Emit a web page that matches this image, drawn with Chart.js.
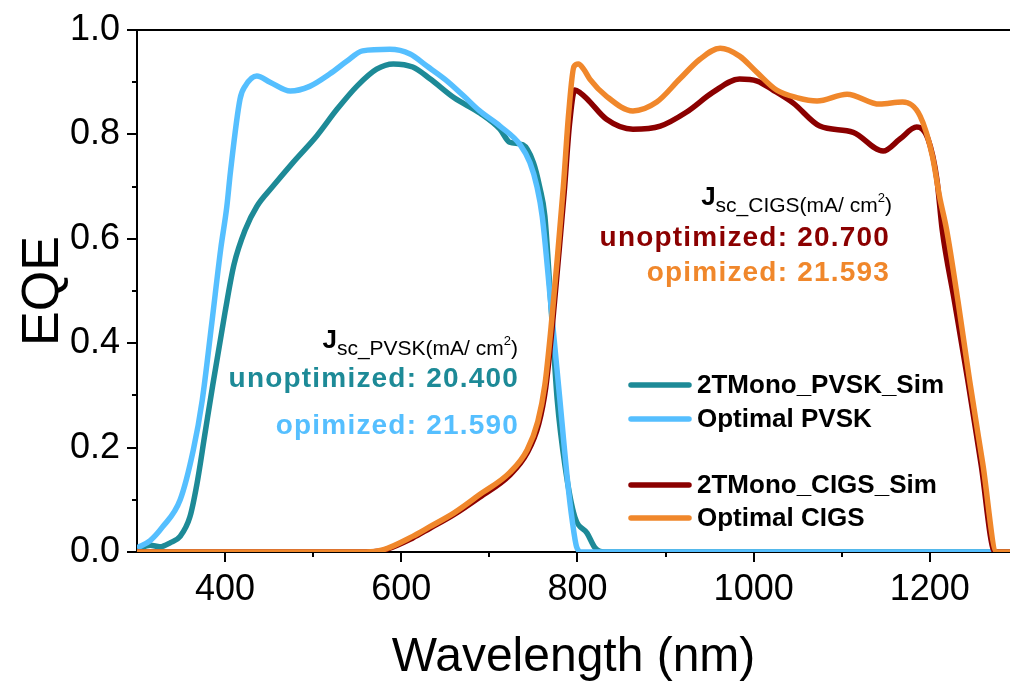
<!DOCTYPE html>
<html>
<head>
<meta charset="utf-8">
<script src="https://cdn.jsdelivr.net/npm/chart.js@4.4.0/dist/chart.umd.min.js"></script>
<style>
  html, body { margin: 0; padding: 0; background: #fff; }
  #wrap { width: 1010px; height: 681px; }
</style>
</head>
<body>
<div id="wrap"><canvas id="eqe-chart" width="1010" height="681"></canvas></div>
<script>
const FAMILY = "'Liberation Sans', Arial, Helvetica, sans-serif";

// axis ticks
const xTickValues = [400, 500, 600, 700, 800, 900, 1000, 1100, 1200];
const yTickValues = [0, 0.1, 0.2, 0.3, 0.4, 0.5, 0.6, 0.7, 0.8, 0.9, 1.0];

// 2TMono_PVSK_Sim (top cell, simulated)
const simPvskNm  = [300, 315, 326, 338, 349, 360, 368, 377, 386, 400, 410, 423, 436, 454, 477, 504, 527, 550, 572, 591, 613, 633, 660, 690, 712, 723, 738, 750, 757, 763, 770, 777, 786, 797, 811, 820, 830, 1291];
const simPvskEqe = [0.005, 0.013, 0.01, 0.018, 0.03, 0.067, 0.13, 0.225, 0.32, 0.46, 0.55, 0.618, 0.662, 0.70, 0.746, 0.797, 0.848, 0.893, 0.925, 0.935, 0.929, 0.906, 0.87, 0.84, 0.81, 0.785, 0.78, 0.746, 0.70, 0.643, 0.47, 0.292, 0.163, 0.067, 0.036, 0.008, 0, 0];

// Optimal PVSK
const optPvskNm  = [300, 315, 329, 349, 364, 374, 385, 395, 402, 406, 417, 423, 436, 451, 474, 496, 519, 538, 556, 587, 610, 629, 650, 670, 689, 712, 735, 746, 754, 760, 770, 780, 789, 794, 799, 805, 1291];
const optPvskEqe = [0.008, 0.022, 0.048, 0.10, 0.196, 0.29, 0.44, 0.58, 0.662, 0.727, 0.868, 0.893, 0.912, 0.90, 0.883, 0.892, 0.916, 0.94, 0.96, 0.963, 0.954, 0.931, 0.905, 0.875, 0.845, 0.816, 0.78, 0.746, 0.70, 0.643, 0.47, 0.292, 0.132, 0.061, 0.01, 0, 0];

// 2TMono_CIGS_Sim (bottom cell, simulated)
const simCigsNm  = [300, 560, 579, 613, 632, 660, 689, 723, 743, 756, 764, 771, 778, 785, 791, 797, 803, 811, 833, 863, 894, 924, 954, 984, 1004, 1022, 1045, 1075, 1113, 1147, 1166, 1185, 1198, 1208, 1214, 1228, 1243, 1258, 1274, 1291];
const simCigsEqe = [0, 0, 0.003, 0.027, 0.045, 0.072, 0.105, 0.147, 0.19, 0.245, 0.315, 0.425, 0.555, 0.69, 0.82, 0.885, 0.88, 0.868, 0.829, 0.81, 0.816, 0.843, 0.881, 0.906, 0.902, 0.885, 0.86, 0.816, 0.804, 0.768, 0.791, 0.814, 0.791, 0.714, 0.618, 0.48, 0.33, 0.17, 0, 0];

// Optimal CIGS
const optCigsNm  = [300, 560, 579, 613, 632, 660, 689, 723, 743, 755, 763, 770, 777, 784, 790, 796, 801, 807, 814, 833, 863, 890, 916, 939, 962, 984, 1003, 1026, 1050, 1072, 1106, 1143, 1169, 1189, 1203, 1211, 1219, 1232, 1245, 1260, 1276, 1291];
const optCigsEqe = [0, 0, 0.004, 0.03, 0.048, 0.075, 0.11, 0.152, 0.196, 0.25, 0.32, 0.43, 0.56, 0.70, 0.84, 0.93, 0.935, 0.925, 0.906, 0.873, 0.845, 0.862, 0.906, 0.944, 0.965, 0.95, 0.92, 0.885, 0.87, 0.864, 0.877, 0.858, 0.862, 0.835, 0.758, 0.681, 0.618, 0.48, 0.33, 0.17, 0, 0];

const seriesNames  = ['2TMono_PVSK_Sim', 'Optimal PVSK', '2TMono_CIGS_Sim', 'Optimal CIGS'];
const seriesColors = ['#1d8a97', '#55bfff', '#8b0000', '#f0872b'];

// Jsc boxes: header sub-label, then the two value lines
const jscPvsk = { sub: 'sc_PVSK', unopt: 'unoptimized: 20.400', opt: 'opimized: 21.590' };
const jscCigs = { sub: 'sc_CIGS', unopt: 'unoptimized: 20.700', opt: 'opimized: 21.593' };

const pairs = (xs, ys) => xs.map((x, i) => ({ x: x, y: ys[i] }));

const lineSet = (i, xs, ys, order) => ({
    label: seriesNames[i],
    data: pairs(xs, ys),
    borderColor: seriesColors[i],
    backgroundColor: seriesColors[i],
    borderWidth: 5.5,
    pointRadius: 0,
    cubicInterpolationMode: 'monotone',
    fill: false,
    order: order
});

// outward tick marks, long on labelled values, short in between
const tickMarks = {
    id: 'tickMarks',
    afterDraw(chart) {
        const c = chart.ctx;
        const area = chart.chartArea;
        const xs = chart.scales.x;
        const ys = chart.scales.y;
        c.save();
        c.strokeStyle = '#000';
        c.lineWidth = 2;
        xs.ticks.forEach(t => {
            const len = t.value % 200 === 0 ? 10 : 5;
            const px = Math.round(xs.getPixelForValue(t.value));
            c.beginPath();
            c.moveTo(px, area.bottom);
            c.lineTo(px, area.bottom + len);
            c.stroke();
        });
        ys.ticks.forEach(t => {
            const len = Math.round(t.value * 10) % 2 === 0 ? 10 : 5;
            const py = Math.round(ys.getPixelForValue(t.value));
            c.beginPath();
            c.moveTo(area.left, py);
            c.lineTo(area.left - len, py);
            c.stroke();
        });
        // top frame line
        c.beginPath();
        c.moveTo(area.left, area.top);
        c.lineTo(chart.width, area.top);
        c.stroke();
        c.restore();
    }
};

// legend in two groups with a gap between PVSK and CIGS
const groupedLegend = {
    id: 'groupedLegend',
    afterDraw(chart) {
        const c = chart.ctx;
        const rows = [385, 419, 485, 518];
        c.save();
        c.lineCap = 'round';
        c.font = 'bold 26px ' + FAMILY;
        c.textBaseline = 'middle';
        c.textAlign = 'left';
        seriesNames.forEach((name, i) => {
            c.strokeStyle = seriesColors[i];
            c.lineWidth = 5.5;
            c.beginPath();
            c.moveTo(631, rows[i]);
            c.lineTo(689, rows[i]);
            c.stroke();
            c.fillStyle = '#000';
            c.fillText(name, 697, rows[i] + 1);
        });
        c.restore();
    }
};

function drawJscHeader(c, right, base, sub) {
    const parts = [
        { t: 'J', f: 'bold 26px ' + FAMILY, dy: -7 },
        { t: sub, f: '21px ' + FAMILY, dy: 0 },
        { t: '(mA/ cm', f: '21px ' + FAMILY, dy: 0 },
        { t: '2', f: '13px ' + FAMILY, dy: -10 },
        { t: ')', f: '21px ' + FAMILY, dy: 0 }
    ];
    let total = 0;
    parts.forEach(p => { c.font = p.f; p.w = c.measureText(p.t).width; total += p.w; });
    let x = right - total;
    c.textAlign = 'left';
    c.textBaseline = 'alphabetic';
    c.fillStyle = '#000';
    parts.forEach(p => { c.font = p.f; c.fillText(p.t, x, base + p.dy); x += p.w; });
}

function drawJscValues(c, right, base1, base2, text1, text2, col1, col2) {
    c.font = 'bold 28px ' + FAMILY;
    c.letterSpacing = '1.2px';
    c.textAlign = 'right';
    c.textBaseline = 'alphabetic';
    c.fillStyle = col1;
    c.fillText(text1, right, base1);
    c.fillStyle = col2;
    c.fillText(text2, right, base2);
    c.letterSpacing = '0px';
}

const jscNotes = {
    id: 'jscNotes',
    afterDraw(chart) {
        const c = chart.ctx;
        c.save();
        drawJscHeader(c, 518, 355, jscPvsk.sub);
        drawJscValues(c, 519, 387, 434, jscPvsk.unopt, jscPvsk.opt, seriesColors[0], seriesColors[1]);
        drawJscHeader(c, 892, 212, jscCigs.sub);
        drawJscValues(c, 890, 246, 281, jscCigs.unopt, jscCigs.opt, seriesColors[2], seriesColors[3]);
        c.restore();
    }
};

// fixed gutters so the plot box sits where it should
const fixX = s => { s.height = 129; s.paddingLeft = 0; s.paddingRight = 0; };
const fixY = s => { s.width = 137; s.paddingTop = 0; s.paddingBottom = 0; };

const ctx = document.getElementById('eqe-chart');

const EqeChart = new Chart(ctx, {
    type: 'line',
    data: {
        datasets: [
            lineSet(0, simPvskNm, simPvskEqe, 4),
            lineSet(1, optPvskNm, optPvskEqe, 3),
            lineSet(2, simCigsNm, simCigsEqe, 2),
            lineSet(3, optCigsNm, optCigsEqe, 1)
        ]
    },
    options: {
        responsive: false,
        devicePixelRatio: 1,
        animation: false,
        layout: { padding: { top: 30, right: 0, left: 0, bottom: 0 } },
        plugins: {
            legend: { display: false },
            tooltip: { enabled: false }
        },
        scales: {
            x: {
                type: 'linear',
                min: 300,
                max: 1291,
                grid: { display: false, drawTicks: false },
                border: { display: true, color: '#000', width: 2 },
                afterBuildTicks: s => { s.ticks = xTickValues.map(v => ({ value: v })); },
                ticks: {
                    autoSkip: false,
                    maxRotation: 0,
                    padding: 16,
                    color: '#000',
                    font: { family: FAMILY, size: 36 },
                    callback: v => v % 200 === 0 ? String(v) : ''
                },
                title: {
                    display: true,
                    text: 'Wavelength (nm)',
                    color: '#000',
                    font: { family: FAMILY, size: 48 },
                    padding: { top: 0, bottom: -6 }
                },
                afterFit: fixX
            },
            y: {
                min: 0,
                max: 1,
                grid: { display: false, drawTicks: false },
                border: { display: true, color: '#000', width: 2 },
                afterBuildTicks: s => { s.ticks = yTickValues.map(v => ({ value: v })); },
                ticks: {
                    autoSkip: false,
                    padding: 17,
                    color: '#000',
                    font: { family: FAMILY, size: 36 },
                    callback: v => Math.round(v * 10) % 2 === 0 ? v.toFixed(1) : ''
                },
                title: {
                    display: true,
                    text: 'EQE',
                    color: '#000',
                    font: { family: FAMILY, size: 52 },
                    padding: { top: 12, bottom: 0 }
                },
                afterFit: fixY
            }
        }
    },
    plugins: [tickMarks, groupedLegend, jscNotes]
});
</script>
</body>
</html>
